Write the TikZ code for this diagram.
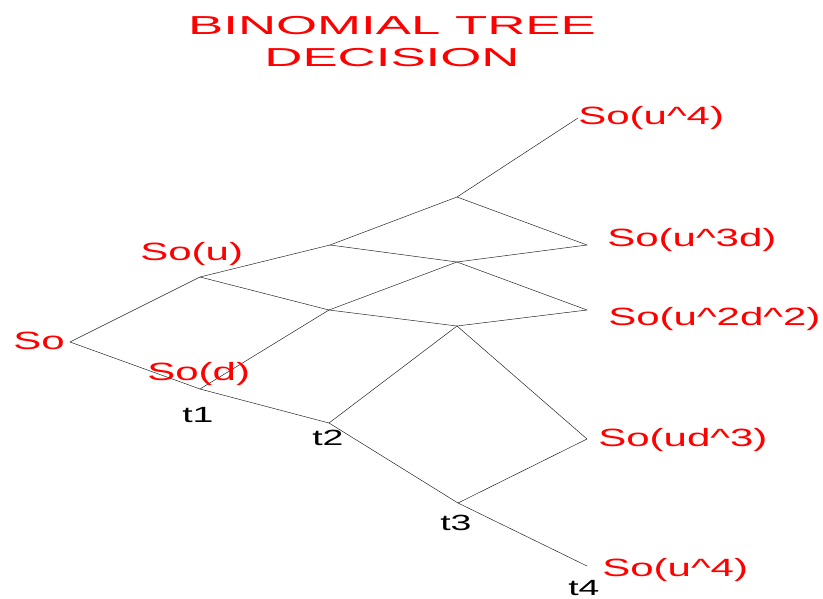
\documentclass[tikz,border=0pt]{standalone}
\usepackage{fontspec}
\setmainfont{Liberation Sans}

\begin{document}
\begin{tikzpicture}[
    x=1pt, y=-1pt,
    heading/.style={text=red, inner sep=0pt, align=center, xscale=2.03,
                    font=\fontsize{26}{32}\selectfont},
    price/.style={text=red, inner sep=0pt, anchor=base west, xscale=1.68,
                  font=\fontsize{25}{30}\selectfont},
    tlab/.style={text=black, inner sep=0pt, anchor=base west, xscale=1.7,
                 font=\fontsize{22}{26}\selectfont},
    edge/.style={black!85, line width=0.5pt}
  ]
    \useasboundingbox (0,0) rectangle (823,598);
    \node[heading] (title) at (392,42) {BINOMIAL TREE\\DECISION};

    % lattice points
    \coordinate (s0) at (70,342);
    \coordinate (u1) at (200,277);
    \coordinate (d1) at (200,389);
    \coordinate (uu2) at (330,245);
    \coordinate (ud2) at (329,310);
    \coordinate (dd2) at (329,423);
    \coordinate (uuu3) at (457,197);
    \coordinate (uud3) at (457,262);
    \coordinate (udd3) at (457,326);
    \coordinate (ddd3) at (458,503);
    \coordinate (uuuu4) at (578,118);
    \coordinate (uuud4) at (587,245);
    \coordinate (uudd4) at (587,310);
    \coordinate (uddd4) at (587,439);
    \coordinate (dddd4) at (587,566);

    \foreach \a/\b in {s0/u1, s0/d1, u1/uu2, u1/ud2, d1/ud2, d1/dd2,
                       uu2/uuu3, uu2/uud3, ud2/uud3, ud2/udd3, dd2/udd3, dd2/ddd3,
                       uuu3/uuuu4, uuu3/uuud4, uud3/uuud4, uud3/uudd4,
                       udd3/uudd4, udd3/uddd4, ddd3/uddd4, ddd3/dddd4}
      \draw[edge] (\a) -- (\b);

    % prices
    \node[price] (p-s0) at (13,349.5) {So};
    \node[price] (p-u1) at (140,260.5) {So(u)};
    \node[price] (p-d1) at (147,380.5) {So(d)};
    \node[price] (p-uuuu4) at (578,124.5) {So(u\textasciicircum4)};
    \node[price] (p-uuud4) at (607,246.5) {So(u\textasciicircum3d)};
    \node[price] (p-uudd4) at (608,325.5) {So(u\textasciicircum2d\textasciicircum2)};
    \node[price] (p-uddd4) at (598,446.5) {So(ud\textasciicircum3)};
    \node[price] (p-dddd4) at (602,576.5) {So(u\textasciicircum4)};

    % time steps
    \node[tlab] (t1) at (182,422) {t1};
    \node[tlab] (t2) at (312,445) {t2};
    \node[tlab] (t3) at (440,530) {t3};
    \node[tlab] (t4) at (568,595) {t4};
  \end{tikzpicture}
\end{document}
